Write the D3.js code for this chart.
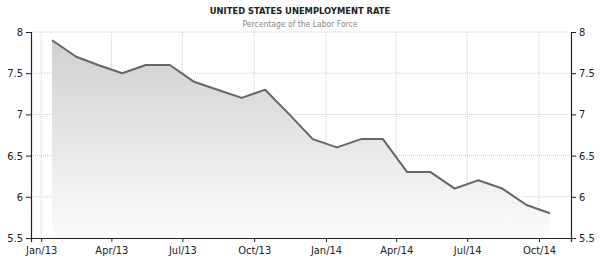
<!DOCTYPE html>
<html>
<head>
<meta charset="utf-8">
<script src="https://cdn.jsdelivr.net/npm/d3@7"></script>
<style>
  body { margin: 0; background: #fff; }
  svg { display: block; font-family: Tahoma, "DejaVu Sans Condensed", "DejaVu Sans", sans-serif; }
</style>
</head>
<body>
<svg id="chart" width="600" height="262"></svg>
<script>
// monthly readings, Jan 2013 .. Oct 2014
const months = ["2013-01","2013-02","2013-03","2013-04","2013-05","2013-06","2013-07","2013-08","2013-09","2013-10","2013-11","2013-12",
                "2014-01","2014-02","2014-03","2014-04","2014-05","2014-06","2014-07","2014-08","2014-09","2014-10"];
const rates = [7.9, 7.7, 7.6, 7.5, 7.6, 7.6, 7.4, 7.3, 7.2, 7.3, 7.0, 6.7,
               6.6, 6.7, 6.7, 6.3, 6.3, 6.1, 6.2, 6.1, 5.9, 5.8];
const yTicks = [5.5, 6, 6.5, 7, 7.5, 8];
const xTickDates = ["2013-01-01","2013-04-01","2013-07-01","2013-10-01","2014-01-01","2014-04-01","2014-07-01","2014-10-01"];
const title = "UNITED STATES UNEMPLOYMENT RATE";
const subtitle = "Percentage of the Labor Force";

const svg = d3.select("#chart");
const margin = { top: 32, right: 29, bottom: 24, left: 31 };
const width = 600 - margin.left - margin.right;
const height = 262 - margin.top - margin.bottom;

const parseMonth = d3.timeParse("%Y-%m");
const parseDay = d3.timeParse("%Y-%m-%d");
const data = months.map((m, i) => {
  const d = parseMonth(m);
  return { date: d3.timeDay.offset(d, 14), value: rates[i] };
});

const x = d3.scaleTime()
  .domain([parseDay("2012-12-19"), parseDay("2014-11-11")])
  .range([0, width]);
const y = d3.scaleLinear().domain([5.5, 8]).range([height, 0]);

// title
svg.append("text")
  .attr("x", 300).attr("y", 14)
  .attr("text-anchor", "middle")
  .style("font-size", "9.3px").style("font-weight", "bold").style("fill", "#222")
  .text(title);
svg.append("text")
  .attr("x", 300).attr("y", 27)
  .attr("text-anchor", "middle")
  .style("font-size", "8.5px").style("fill", "#888")
  .text(subtitle);

const g = svg.append("g").attr("transform", `translate(${margin.left},${margin.top})`);

// gradient for area
const grad = svg.append("defs").append("linearGradient")
  .attr("id", "fillGrad").attr("x1", 0).attr("y1", 0).attr("x2", 0).attr("y2", 1);
grad.append("stop").attr("offset", "0%").attr("stop-color", "#d0d0d0");
grad.append("stop").attr("offset", "100%").attr("stop-color", "#fcfcfc");

// grid
const xTicks = xTickDates.map(parseDay);
g.selectAll(".vgrid").data(xTicks).join("line")
  .attr("class", "vgrid")
  .attr("x1", d => x(d)).attr("x2", d => x(d))
  .attr("y1", 0).attr("y2", height)
  .attr("stroke", "#ccc").attr("stroke-dasharray", "1,1");
g.selectAll(".hgrid").data(yTicks.filter(t => t > 5.5)).join("line")
  .attr("class", "hgrid")
  .attr("x1", 0).attr("x2", width)
  .attr("y1", d => y(d)).attr("y2", d => y(d))
  .attr("stroke", "#ccc").attr("stroke-dasharray", "1,1");

// area + line
const area = d3.area().x(d => x(d.date)).y0(height).y1(d => y(d.value));
const line = d3.line().x(d => x(d.date)).y(d => y(d.value));
g.append("path").datum(data).attr("d", area).attr("fill", "url(#fillGrad)");
g.append("path").datum(data).attr("d", line)
  .attr("fill", "none").attr("stroke", "#666").attr("stroke-width", 2)
  .attr("stroke-linejoin", "round");

// axes
const fmtY = d => d3.format("")(d);
const styleAxis = sel => {
  sel.select(".domain").attr("stroke", "#222").attr("stroke-width", 1.2);
  sel.selectAll(".tick line").attr("stroke", "#222");
  sel.selectAll(".tick text").style("font-size", "11px").style("fill", "#222")
    .style("font-family", "Tahoma, 'DejaVu Sans Condensed', 'DejaVu Sans', sans-serif");
};
g.append("g")
  .call(d3.axisLeft(y).tickValues(yTicks).tickFormat(fmtY).tickSizeOuter(0).tickSize(5).tickPadding(3))
  .call(styleAxis);
g.append("g").attr("transform", `translate(${width},0)`)
  .call(d3.axisRight(y).tickValues(yTicks).tickFormat(fmtY).tickSizeOuter(0).tickSize(5).tickPadding(3))
  .call(styleAxis);
g.append("g").attr("transform", `translate(0,${height})`)
  .call(d3.axisBottom(x).tickValues(xTicks).tickFormat(d3.timeFormat("%b/%y")).tickSizeOuter(0).tickSize(4).tickPadding(4))
  .call(styleAxis);
</script>
</body>
</html>
